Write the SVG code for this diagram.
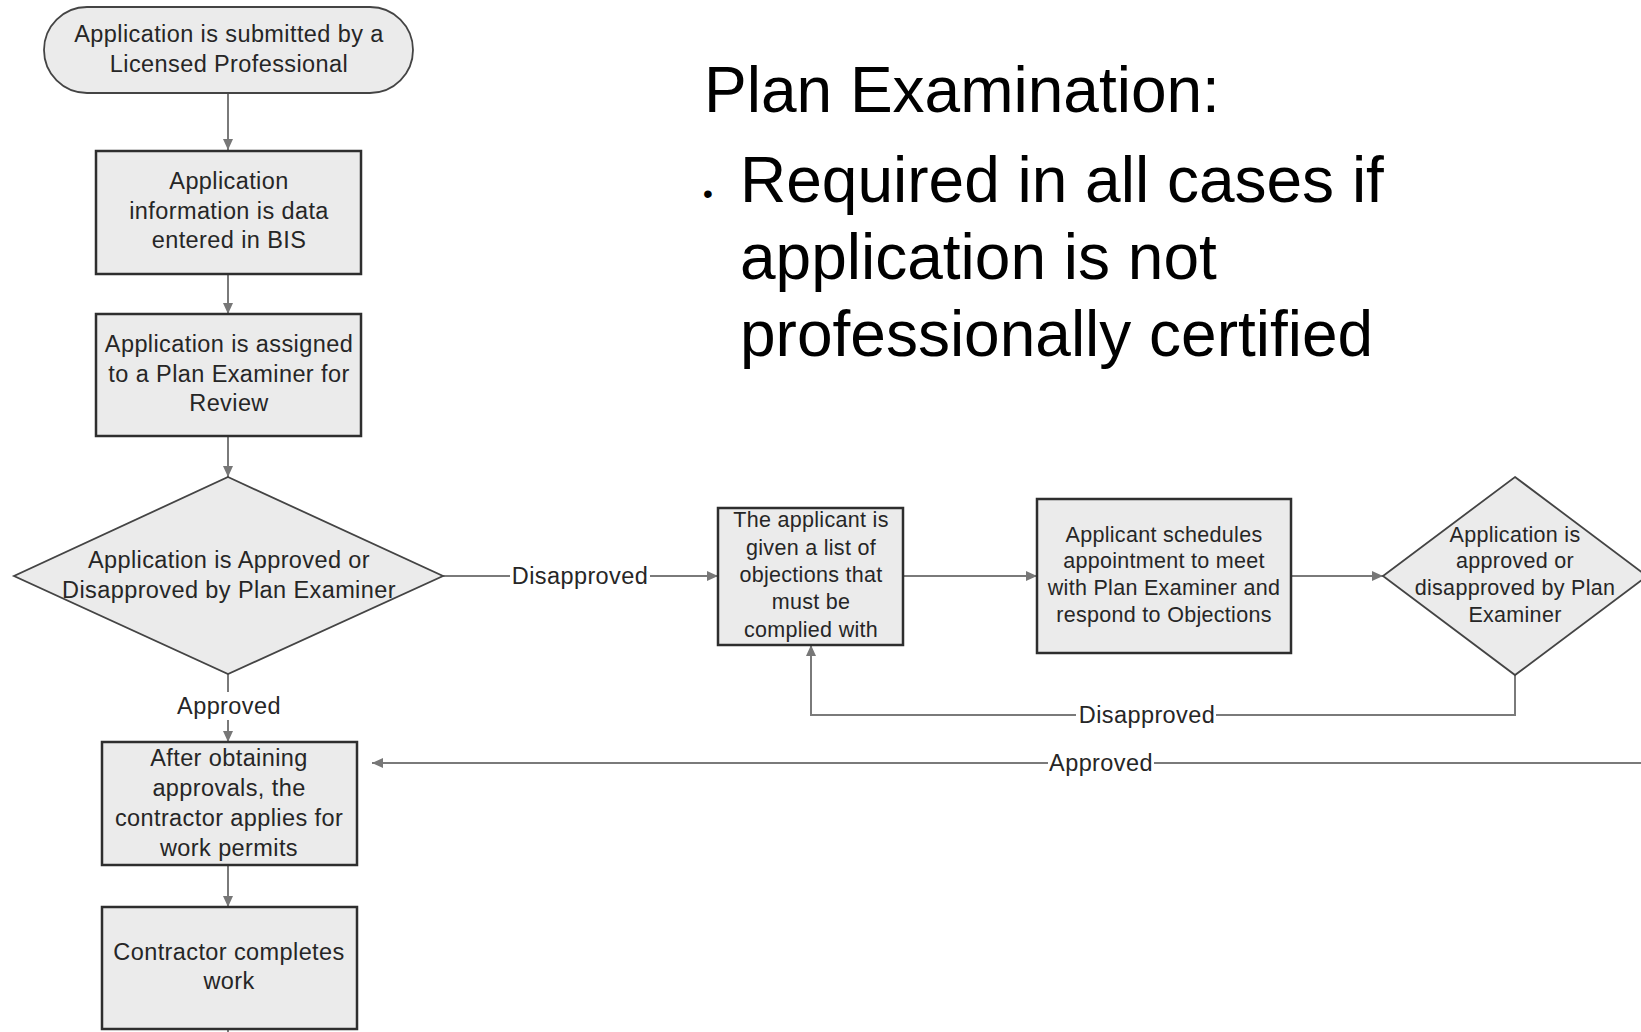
<svg xmlns="http://www.w3.org/2000/svg" width="1641" height="1032" viewBox="0 0 1641 1032">
  <defs>
    <marker id="arrow" markerUnits="userSpaceOnUse" markerWidth="12" markerHeight="10" refX="11" refY="5" orient="auto">
      <path d="M0,0 L11,5 L0,10 z" fill="#777"/>
    </marker>
    <style>
      .box { fill: #ebebeb; stroke: #2e2e2e; stroke-width: 2.5; }
      .dec { fill: #ebebeb; stroke: #444; stroke-width: 1.8; }
      .term { fill: #ebebeb; stroke: #444; stroke-width: 1.8; }
      .t { font-family: "Liberation Sans", Arial, sans-serif; font-size: 23.5px; letter-spacing: 0.4px; fill: #262626; text-anchor: middle; }
      .ts { font-family: "Liberation Sans", Arial, sans-serif; font-size: 21.5px; letter-spacing: 0.3px; fill: #262626; text-anchor: middle; }
      .conn { fill: none; stroke: #7a7a7a; stroke-width: 2; }
      .lblbg { fill: #ffffff; }
      .title { font-family: "Liberation Sans", Arial, sans-serif; font-size: 64px; fill: #000; }
    </style>
  </defs>

  <rect width="1641" height="1032" fill="#ffffff"/>

  <!-- Heading and bullet text -->
  <g id="heading">
    <text class="title" x="704" y="112">Plan Examination:</text>
    <text class="title" x="703" y="203" style="font-size:28px">•</text>
    <text class="title" x="740" y="202">Required in all cases if</text>
    <text class="title" x="740" y="279">application is not</text>
    <text class="title" x="740" y="356">professionally certified</text>
  </g>

  <!-- Connectors -->
  <g id="connectors">
    <line class="conn" x1="228" y1="94" x2="228" y2="150" marker-end="url(#arrow)"/>
    <line class="conn" x1="228" y1="274" x2="228" y2="314" marker-end="url(#arrow)"/>
    <line class="conn" x1="228" y1="436" x2="228" y2="477" marker-end="url(#arrow)"/>

    <line class="conn" x1="443" y1="576" x2="718" y2="576" marker-end="url(#arrow)"/>
    <rect class="lblbg" x="510" y="563" width="140" height="26"/>
    <text class="t" x="580" y="584">Disapproved</text>

    <line class="conn" x1="228" y1="674" x2="228" y2="742" marker-end="url(#arrow)"/>
    <rect class="lblbg" x="170" y="692" width="116" height="28"/>
    <text class="t" x="229" y="714">Approved</text>

    <line class="conn" x1="903" y1="576" x2="1037" y2="576" marker-end="url(#arrow)"/>
    <line class="conn" x1="1291" y1="576" x2="1383" y2="576" marker-end="url(#arrow)"/>

    <polyline class="conn" points="1515,675 1515,715 811,715 811,645" marker-end="url(#arrow)"/>
    <rect class="lblbg" x="1076" y="702" width="140" height="26"/>
    <text class="t" x="1147" y="723">Disapproved</text>

    <line class="conn" x1="1641" y1="763" x2="372" y2="763" marker-end="url(#arrow)"/>
    <rect class="lblbg" x="1048" y="750" width="106" height="26"/>
    <text class="t" x="1101" y="771">Approved</text>

    <line class="conn" x1="228" y1="865" x2="228" y2="907" marker-end="url(#arrow)"/>
    <line class="conn" x1="228" y1="1030" x2="228" y2="1040"/>
  </g>

  <!-- Nodes -->
  <g id="n-submitted">
    <rect class="term" x="44" y="7" width="369" height="86" rx="43" ry="43"/>
    <text class="t" x="229" y="42">Application is submitted by a</text>
    <text class="t" x="229" y="72">Licensed Professional</text>
  </g>

  <g id="n-data-entry">
    <rect class="box" x="96" y="151" width="265" height="123"/>
    <text class="t" x="229" y="189">Application</text>
    <text class="t" x="229" y="219">information is data</text>
    <text class="t" x="229" y="248">entered in BIS</text>
  </g>

  <g id="n-assigned">
    <rect class="box" x="96" y="314" width="265" height="122"/>
    <text class="t" x="229" y="352">Application is assigned</text>
    <text class="t" x="229" y="382">to a Plan Examiner for</text>
    <text class="t" x="229" y="411">Review</text>
  </g>

  <g id="n-decision">
    <polygon class="dec" points="228,477 443,576 228,674 14,576"/>
    <text class="t" x="229" y="568">Application is Approved or</text>
    <text class="t" x="229" y="598">Disapproved by Plan Examiner</text>
  </g>

  <g id="n-work-permits">
    <rect class="box" x="102" y="742" width="255" height="123"/>
    <text class="t" x="229" y="766">After obtaining</text>
    <text class="t" x="229" y="796">approvals, the</text>
    <text class="t" x="229" y="826">contractor applies for</text>
    <text class="t" x="229" y="856">work permits</text>
  </g>

  <g id="n-complete">
    <rect class="box" x="102" y="907" width="255" height="122"/>
    <text class="t" x="229" y="960">Contractor completes</text>
    <text class="t" x="229" y="989">work</text>
  </g>

  <g id="n-objections">
    <rect class="box" x="718" y="508" width="185" height="137"/>
    <text class="ts" x="811" y="527">The applicant is</text>
    <text class="ts" x="811" y="555">given a list of</text>
    <text class="ts" x="811" y="582">objections that</text>
    <text class="ts" x="811" y="609">must be</text>
    <text class="ts" x="811" y="637">complied with</text>
  </g>

  <g id="n-appointment">
    <rect class="box" x="1037" y="499" width="254" height="154"/>
    <text class="ts" x="1164" y="542">Applicant schedules</text>
    <text class="ts" x="1164" y="568">appointment to meet</text>
    <text class="ts" x="1164" y="595">with Plan Examiner and</text>
    <text class="ts" x="1164" y="622">respond to Objections</text>
  </g>

  <g id="n-redecision">
    <polygon class="dec" points="1515,477 1647,576 1515,675 1383,576"/>
    <text class="ts" x="1515" y="542">Application is</text>
    <text class="ts" x="1515" y="568">approved or</text>
    <text class="ts" x="1515" y="595">disapproved by Plan</text>
    <text class="ts" x="1515" y="622">Examiner</text>
  </g>
</svg>
